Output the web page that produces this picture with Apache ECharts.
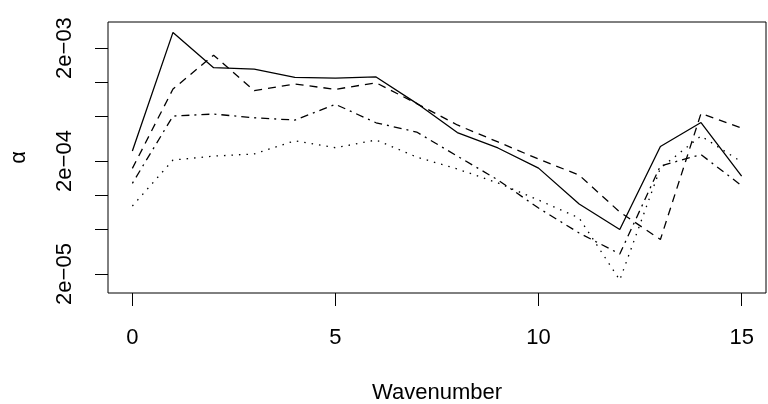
<!DOCTYPE html>
<html>
<head>
<meta charset="utf-8">
<script src="https://cdn.jsdelivr.net/npm/echarts@6/dist/echarts.min.js"></script>
<style>
    html, body {margin: 0; padding: 0; background: #fff;}
    #chart {width: 768px; height: 404px;}
</style>
</head>
<body>
<div id="chart"></div>
<script>
// wavenumber 0..15
const wavenumbers = [0, 1, 2, 3, 4, 5, 6, 7, 8, 9, 10, 11, 12, 13, 14, 15];

// alpha per line type
const solidSeries = [2.45e-4, 2.75e-3, 1.34e-3, 1.30e-3, 1.10e-3, 1.085e-3, 1.11e-3, 6.48e-4,
    3.57e-4, 2.61e-4, 1.73e-4, 8.33e-5, 4.95e-5, 2.69e-4, 4.38e-4, 1.47e-4];
const dashedSeries = [1.72e-4, 8.67e-4, 1.73e-3, 8.38e-4, 9.60e-4, 8.62e-4, 9.86e-4, 6.45e-4,
    4.17e-4, 2.95e-4, 2.08e-4, 1.50e-4, 7.07e-5, 4.04e-5, 5.27e-4, 3.92e-4];
const dotDashSeries = [1.27e-4, 5.00e-4, 5.21e-4, 4.83e-4, 4.61e-4, 6.35e-4, 4.36e-4, 3.61e-4,
    2.21e-4, 1.36e-4, 7.67e-5, 4.61e-5, 3.01e-5, 1.81e-4, 2.28e-4, 1.21e-4];
const dottedSeries = [8.0e-5, 2.04e-4, 2.21e-4, 2.31e-4, 3.02e-4, 2.62e-4, 3.07e-4, 2.17e-4,
    1.70e-4, 1.28e-4, 9.03e-5, 6.26e-5, 1.77e-5, 1.73e-4, 3.33e-4, 1.96e-4];

const xTicks = [0, 5, 10, 15];
const yTicks = [2e-5, 5e-5, 1e-4, 2e-4, 5e-4, 1e-3, 2e-3];
const yLabelTicks = [2e-5, 2e-4, 2e-3];
const yTickLabels = ['2e\u221205', '2e\u221204', '2e\u221203'];

const yMin = 1.358e-5;
const yMax = 3.40e-3;
const font = 'Liberation Sans, Arial, Helvetica, sans-serif';

let myChart = echarts.init(document.getElementById('chart'), null, {renderer: 'canvas'});

const makeLine = (name, data, type) => ({
    name: name,
    type: 'line',
    yAxisIndex: 0,
    data: wavenumbers.map((x, i) => [x, data[i]]),
    symbol: 'none',
    animation: false,
    lineStyle: {color: '#000', width: 1.3, type: type}
});

let option = {
    backgroundColor: '#fff',
    animation: false,
    grid: {
        left: 108, right: 2, top: 22, bottom: 111,
        containLabel: false,
        outerBoundsMode: 'none',
        show: true, borderColor: '#000', borderWidth: 1, backgroundColor: 'transparent'
    },
    xAxis: {
        type: 'value',
        min: -0.6,
        max: 15.6,
        name: 'Wavenumber',
        nameLocation: 'middle',
        nameGap: 89,
        nameTextStyle: {fontFamily: font, fontSize: 22, color: '#000'},
        axisLine: {show: false},
        splitLine: {show: false},
        axisTick: {show: true, length: 13, customValues: xTicks, lineStyle: {color: '#000', width: 1}},
        axisLabel: {
            customValues: xTicks, margin: 34,
            fontFamily: font, fontSize: 22, color: '#000'
        }
    },
    yAxis: [
        {
            // series axis: real log scale
            type: 'log',
            logBase: 10,
            min: yMin,
            max: yMax,
            show: false
        },
        {
            // decoration axis in log10 units, so ticks can sit at 2, 5, 1 steps
            type: 'value',
            position: 'left',
            min: Math.log10(yMin),
            max: Math.log10(yMax),
            name: '\u03b1',
            nameLocation: 'middle',
            nameRotate: 90,
            nameGap: 78,
            nameTextStyle: {fontFamily: font, fontSize: 22, color: '#000'},
            axisLine: {show: false},
            splitLine: {show: false},
            axisTick: {
                show: true, length: 13,
                customValues: yTicks.map(v => Math.log10(v)),
                lineStyle: {color: '#000', width: 1}
            },
            axisLabel: {
                customValues: yLabelTicks.map(v => Math.log10(v)),
                rotate: 90,
                margin: 32,
                fontFamily: font, fontSize: 22, color: '#000',
                formatter: (val) => {
                    let idx = 0;
                    yLabelTicks.forEach((t, i) => {
                        if (Math.abs(Math.log10(t) - val) < Math.abs(Math.log10(yLabelTicks[idx]) - val)) idx = i;
                    });
                    return yTickLabels[idx];
                }
            }
        }
    ],
    series: [
        makeLine('solid', solidSeries, 'solid'),
        makeLine('dashed', dashedSeries, [8, 6]),
        makeLine('dotdash', dotDashSeries, [2, 5, 8, 5]),
        makeLine('dotted', dottedSeries, [1.5, 6])
    ]
};

myChart.setOption(option);
</script>
</body>
</html>
